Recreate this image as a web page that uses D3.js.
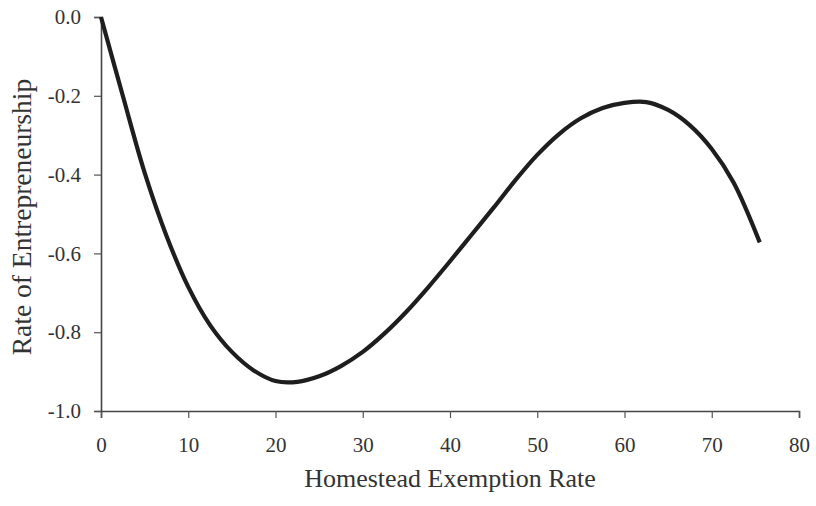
<!DOCTYPE html>
<meta charset="utf-8">
<style>
    body { margin: 0; background: #fff; }
    text { font-family: "Liberation Serif", "Times New Roman", serif; fill: #333; }
</style>
<script src="https://cdn.jsdelivr.net/npm/d3@7"></script>
<body>
<script>
// exemption rate (x) and rate of entrepreneurship (y)
var rates = [0, 2.5, 5, 7.5, 10, 12.5, 15, 17.5, 20, 22.5, 25, 27.5, 30, 32.5, 35, 37.5, 40,
             42.5, 45, 47.5, 50, 52.5, 55, 57.5, 60, 62.5, 65, 67.5, 70, 72.5, 75.5];
var entre = [0, -0.2, -0.395, -0.555, -0.685, -0.782, -0.85, -0.897, -0.924, -0.926, -0.912, -0.886,
             -0.85, -0.803, -0.748, -0.686, -0.62, -0.552, -0.484, -0.414, -0.35, -0.297, -0.257,
             -0.231, -0.218, -0.216, -0.236, -0.275, -0.335, -0.42, -0.572];
var xTicks = [0, 10, 20, 30, 40, 50, 60, 70, 80];
var yTicks = [0, -0.2, -0.4, -0.6, -0.8, -1.0];

var width = 816, height = 506;

var svg = d3.select("body").append("svg")
    .attr("width", width)
    .attr("height", height);

var x = d3.scaleLinear().domain([0, 80]).range([101, 799]);
var y = d3.scaleLinear().domain([-1, 0]).range([411, 17]);

//axes
var xAxis = svg.append("g")
    .attr("transform", "translate(0," + y(-1) + ")")
    .call(d3.axisBottom(x).tickValues(xTicks).tickSizeOuter(0).tickSize(7).tickPadding(19));

var yAxis = svg.append("g")
    .attr("transform", "translate(" + x(0) + ",0)")
    .call(d3.axisLeft(y).tickValues(yTicks).tickSizeOuter(0).tickSize(7).tickPadding(13)
        .tickFormat(function(d) { return d.toFixed(1); }));

svg.selectAll(".domain").attr("stroke", "#444").attr("stroke-width", 1.6);
svg.selectAll(".tick line").attr("stroke", "#555").attr("stroke-width", 1.2);
svg.selectAll(".tick text").style("font-size", "21px").attr("fill", "#333");

//axis titles
svg.append("text")
    .attr("x", (x(0) + x(80)) / 2)
    .attr("y", 487)
    .attr("text-anchor", "middle")
    .style("font-size", "26px")
    .text("Homestead Exemption Rate");

svg.append("text")
    .attr("transform", "translate(31,217) rotate(-90)")
    .attr("text-anchor", "middle")
    .style("font-size", "27.5px")
    .text("Rate of Entrepreneurship");

//the curve
var line = d3.line()
    .x(function(d, i) { return x(rates[i]); })
    .y(function(d) { return y(d); })
    .curve(d3.curveCatmullRom);

svg.append("path")
    .datum(entre)
    .attr("d", line)
    .attr("fill", "none")
    .attr("stroke", "#1e1e1e")
    .attr("stroke-width", 4.2)
    .attr("stroke-linejoin", "round");
</script>
</body>
